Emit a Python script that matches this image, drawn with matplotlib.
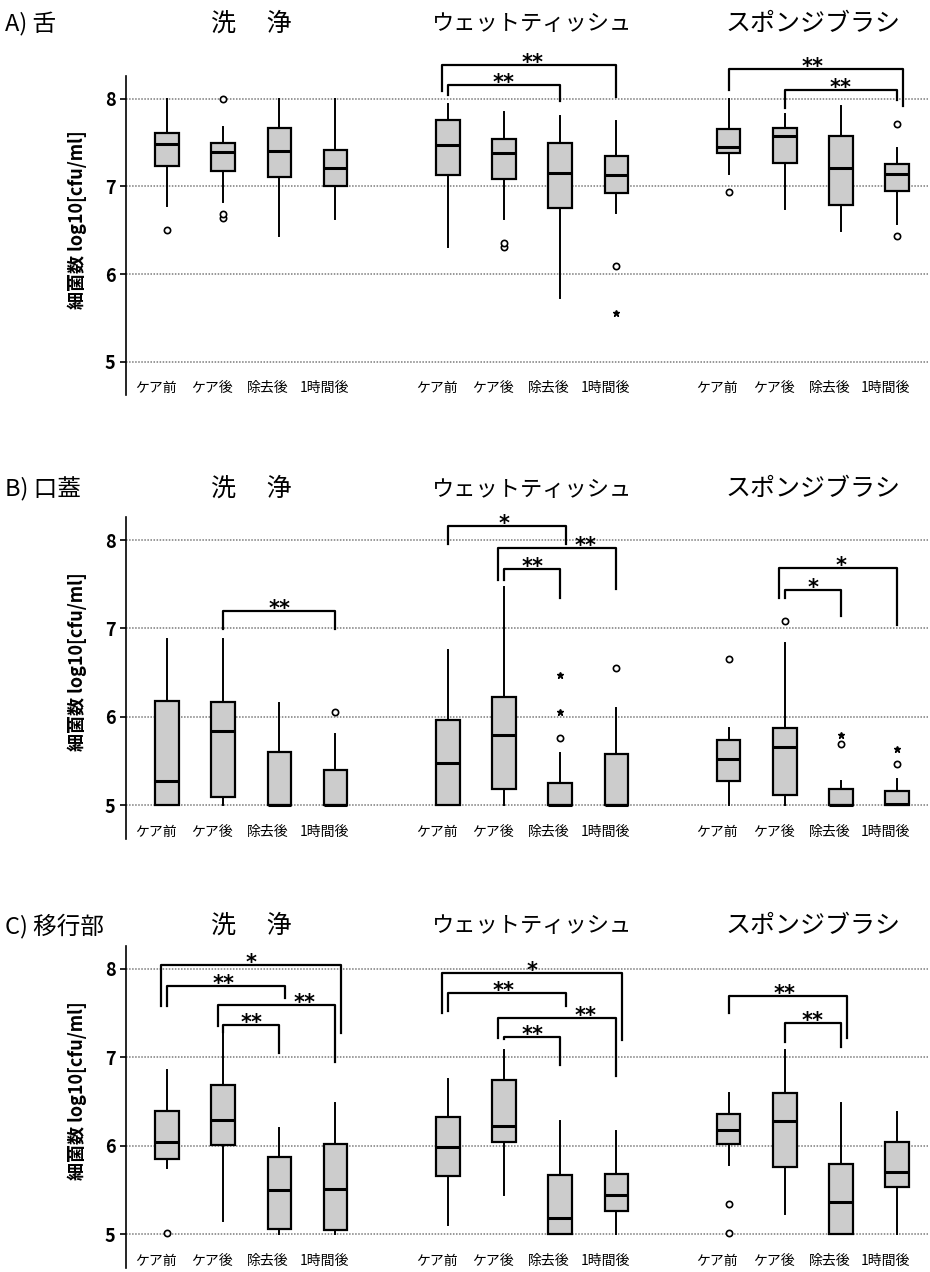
import matplotlib
matplotlib.use("Agg")
import matplotlib.pyplot as plt
import matplotlib.transforms as mtransforms

plt.rcParams['font.family'] = ['Noto Sans CJK JP', 'DejaVu Sans']

panels = ['A) 舌', 'B) 口蓋', 'C) 移行部']
methods = ['洗　 浄', 'ウェットティッシュ', 'スポンジブラシ']
timepoints = ['ケア前', 'ケア後', '除去後', '1時間後']

# box summaries, 12 boxes per panel (3 methods x 4 time points)
# each row: whisker low, q1, median, q3, whisker high
tongue = [
    [6.78, 7.23, 7.48, 7.61, 8.00], [6.82, 7.18, 7.39, 7.50, 7.68],
    [6.44, 7.11, 7.40, 7.67, 8.00], [6.63, 7.01, 7.21, 7.41, 8.00],
    [6.31, 7.13, 7.47, 7.76, 7.94], [6.63, 7.09, 7.38, 7.54, 7.85],
    [5.73, 6.75, 7.15, 7.49, 7.80], [6.70, 6.92, 7.13, 7.35, 7.75],
    [7.14, 7.38, 7.45, 7.66, 8.00], [6.74, 7.27, 7.58, 7.67, 7.83],
    [6.49, 6.79, 7.21, 7.57, 7.92], [6.57, 6.95, 7.14, 7.26, 7.44],
]
palate = [
    [5.00, 5.01, 5.28, 6.18, 6.88], [5.00, 5.10, 5.84, 6.17, 6.88],
    [5.00, 5.00, 5.01, 5.60, 6.16], [5.00, 5.00, 5.01, 5.40, 5.81],
    [5.00, 5.00, 5.48, 5.97, 6.76], [5.00, 5.18, 5.80, 6.22, 7.47],
    [5.00, 5.00, 5.01, 5.25, 5.59], [5.00, 5.00, 5.01, 5.58, 6.10],
    [5.00, 5.28, 5.52, 5.74, 5.87], [5.00, 5.12, 5.66, 5.88, 6.83],
    [5.00, 5.00, 5.01, 5.19, 5.28], [5.00, 5.00, 5.02, 5.16, 5.30],
]
transition = [
    [5.75, 5.85, 6.05, 6.39, 6.86], [5.15, 6.01, 6.29, 6.69, 7.29],
    [5.00, 5.06, 5.50, 5.88, 6.20], [5.00, 5.05, 5.51, 6.02, 6.48],
    [5.11, 5.66, 5.99, 6.33, 6.76], [5.45, 6.04, 6.22, 6.75, 7.08],
    [5.00, 5.01, 5.18, 5.67, 6.28], [5.01, 5.26, 5.45, 5.68, 6.17],
    [5.79, 6.02, 6.18, 6.36, 6.60], [5.23, 5.76, 6.28, 6.60, 7.09],
    [5.00, 5.01, 5.37, 5.80, 6.49], [5.00, 5.54, 5.70, 6.05, 6.38],
]

# outliers: (box index, value)
tongue_circles = [(0, 6.50), (1, 8.00), (1, 6.64), (1, 6.69), (5, 6.305),
                  (5, 6.355), (7, 6.09), (8, 6.94), (11, 7.71), (11, 6.43)]
tongue_stars = [(7, 5.55)]
palate_circles = [(3, 6.06), (6, 5.76), (7, 6.55), (8, 6.65), (9, 7.08),
                  (10, 5.69), (11, 5.47)]
palate_stars = [(6, 6.05), (6, 6.47), (10, 5.80), (11, 5.64)]
transition_circles = [(0, 5.02), (8, 5.34), (8, 5.02)]
transition_stars = []

# significance brackets: (box from, box to, bar level, left leg end, right leg end, mark)
tongue_sig = [
    (4, 7, 8.39, 8.09, 8.02, '**'), (4, 6, 8.16, 8.04, 7.97, '**'),
    (8, 11, 8.34, 8.10, 7.92, '**'), (9, 11, 8.10, 7.89, 7.99, '**'),
]
palate_sig = [
    (1, 3, 7.20, 6.99, 6.99, '**'),
    (4, 6, 8.16, 7.96, 7.95, '*'), (5, 7, 7.91, 7.55, 7.45, '**'),
    (5, 6, 7.67, 7.55, 7.34, '**'),
    (9, 11, 7.68, 7.34, 7.04, '*'), (9, 10, 7.44, 7.34, 7.14, '*'),
]
transition_sig = [
    (0, 3, 8.04, 7.58, 7.28, '*'), (0, 2, 7.81, 7.58, 7.67, '**'),
    (1, 3, 7.59, 7.36, 6.95, '**'), (1, 2, 7.37, 7.29, 7.05, '**'),
    (4, 7, 7.96, 7.50, 7.20, '*'), (4, 6, 7.73, 7.52, 7.58, '**'),
    (5, 7, 7.45, 7.22, 6.79, '**'), (5, 6, 7.23, 7.21, 6.92, '**'),
    (8, 10, 7.70, 7.50, 7.22, '**'), (9, 10, 7.39, 7.18, 7.12, '**'),
]

panel_stats = [tongue, palate, transition]
panel_circles = [tongue_circles, palate_circles, transition_circles]
panel_stars = [tongue_stars, palate_stars, transition_stars]
panel_sig = [tongue_sig, palate_sig, transition_sig]


def pos(i):
    # 4 boxes per method with one empty slot between methods
    return i + i // 4


W, H = 930, 1272
fig = plt.figure(figsize=(W / 100, H / 100), dpi=100)

# pixel rows of each panel: axes top, axes bottom, title line
rows = [(76, 395, 24), (517, 839, 489), (946, 1268, 926)]

for p, (top, bottom, ty) in enumerate(rows):
    ax = fig.add_axes([126 / W, 1 - bottom / H, (928 - 126) / W, (bottom - top) / H])
    ax.set_xlim(-0.73, 13.55)
    ax.set_ylim(4.62, 8.26)

    for v in [5, 6, 7, 8]:
        ax.axhline(v, color='#7a7a7a', lw=1.1, ls=(0, (1, 1)), zorder=0)

    stats = []
    for s in panel_stats[p]:
        stats.append(dict(whislo=s[0], q1=s[1], med=s[2], q3=s[3], whishi=s[4], fliers=[]))
    ax.bxp(stats, positions=[pos(i) for i in range(12)], widths=0.42,
           patch_artist=True, showfliers=False, showcaps=False,
           boxprops=dict(facecolor='#cccccc', edgecolor='black', linewidth=1.6),
           medianprops=dict(color='black', linewidth=2.2),
           whiskerprops=dict(color='black', linewidth=1.4))

    for i, v in panel_circles[p]:
        ax.plot(pos(i), v, 'o', ms=4.5, mfc='white', mec='black', mew=1.2,
                zorder=4, clip_on=False)
    for i, v in panel_stars[p]:
        ax.plot(pos(i), v, '*', ms=5, color='black', zorder=4)

    # brackets
    sig = panel_sig[p]
    for a, b, y, lb, rb, mark in sig:
        nl = sum(1 for s in sig if s[0] == a and s[2] < y)
        nr = sum(1 for s in sig if s[1] == b and s[2] < y)
        xl = pos(a) - 0.1 * nl
        xr = pos(b) + 0.1 * nr
        ax.plot([xl, xl, xr, xr], [lb, y, y, rb], color='black', lw=1.6,
                clip_on=False, zorder=5)
        mid = (pos(a) + pos(b)) / 2
        # move the mark aside if a higher bracket's leg runs through it
        if any(pos(s[1]) == mid and s[2] > y and s[4] < y + 0.25 for s in sig):
            mid += 0.45
        ax.text(mid, y - 0.045, mark, ha='center', va='baseline', fontsize=15,
                fontweight='bold', family='DejaVu Sans', clip_on=False)

    for i in range(12):
        ax.text(pos(i) - 0.2, 4.70, timepoints[i % 4], ha='center', va='center',
                fontsize=10)

    trans = mtransforms.blended_transform_factory(ax.transData, fig.transFigure)
    for g, m in enumerate(methods):
        ax.text(pos(4 * g) + 1.5, 1 - ty / H, m, transform=trans,
                ha='center', va='center', fontsize=16 if g == 1 else 18)
    fig.text(0.005, 1 - ty / H, panels[p], ha='left', va='center', fontsize=17)

    for side in ['top', 'right', 'bottom']:
        ax.spines[side].set_visible(False)
    ax.spines['left'].set_linewidth(1.2)
    ax.set_xticks([])
    ax.set_yticks([5, 6, 7, 8])
    ax.tick_params(axis='y', length=4, width=1.2, labelsize=13)
    for lab in ax.get_yticklabels():
        lab.set_fontweight('bold')
    ax.set_ylabel('細菌数 log10[cfu/ml]', fontsize=13, fontweight='bold')
    ax.yaxis.set_label_coords(-0.049, 0.55)

fig.savefig('out.png', dpi=100)
